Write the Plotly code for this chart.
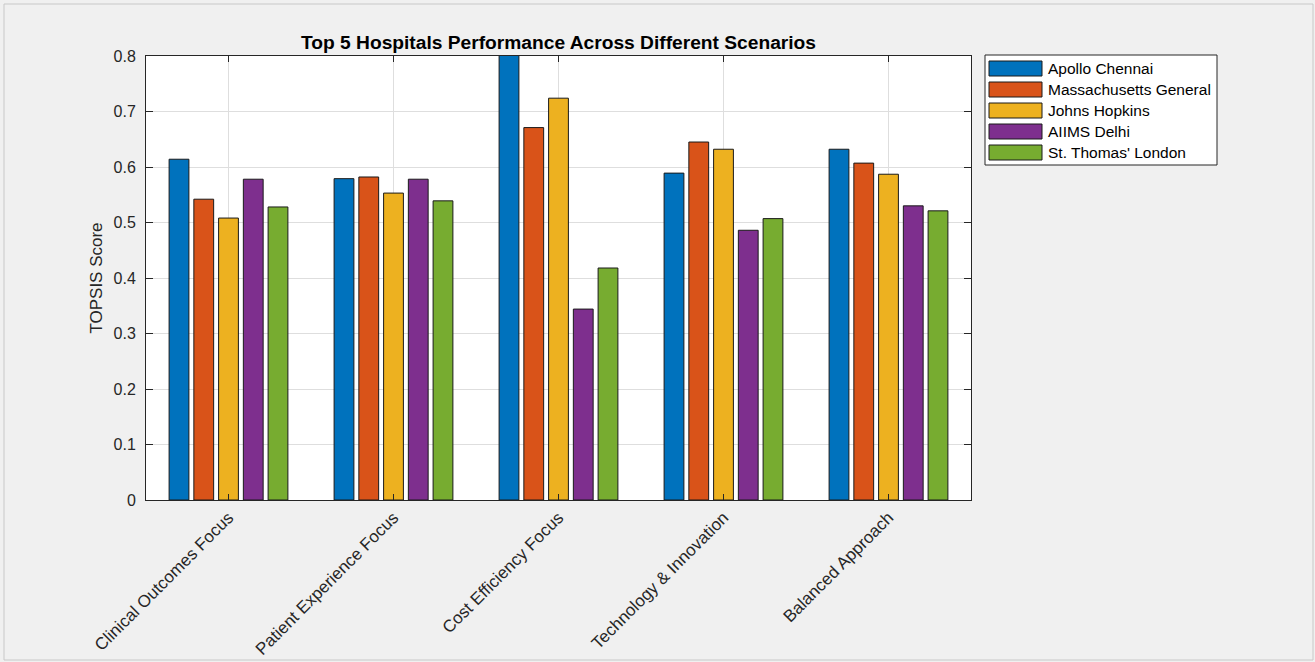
import plotly.graph_objects as go

scenarios = ["Clinical Outcomes Focus", "Patient Experience Focus", "Cost Efficiency Focus",
             "Technology & Innovation", "Balanced Approach"]
hospitals = ["Apollo Chennai", "Massachusetts General", "Johns Hopkins", "AIIMS Delhi", "St. Thomas' London"]
colors = ["#0072BD", "#D95319", "#EDB120", "#7E2F8E", "#77AC30"]

apollo = [0.614, 0.579, 0.830, 0.589, 0.632]
massgen = [0.542, 0.582, 0.671, 0.645, 0.607]
hopkins = [0.508, 0.553, 0.724, 0.632, 0.587]
aiims = [0.578, 0.578, 0.344, 0.486, 0.530]
stthomas = [0.528, 0.539, 0.418, 0.507, 0.521]
series = [apollo, massgen, hopkins, aiims, stthomas]

yticks = [0, 0.1, 0.2, 0.3, 0.4, 0.5, 0.6, 0.7, 0.8]
ytick_text = ["0", "0.1", "0.2", "0.3", "0.4", "0.5", "0.6", "0.7", "0.8"]

W, H = 1315, 662
L, R, T, B = 146, 971, 56, 500

fig = go.Figure()
for name, vals, c in zip(hospitals, series, colors):
    fig.add_trace(go.Bar(x=scenarios, y=vals, name=name, marker=dict(color=c, line=dict(color="#1a1a1a", width=1)),
                         showlegend=False))

FONT = "Liberation Sans, Arial, sans-serif"
fig.update_layout(
    width=W, height=H,
    margin=dict(l=L, r=W - R, t=T, b=H - B, pad=0, autoexpand=False),
    paper_bgcolor="#f0f0f0", plot_bgcolor="white",
    barmode="group", bargap=0.25, bargroupgap=0.2,
    font=dict(family=FONT, color="#262626", size=15),
    title=dict(text="<b>Top 5 Hospitals Performance Across Different Scenarios</b>",
               x=(L + R) / 2 / W, xanchor="center", xref="container",
               y=1 - 42 / H, yanchor="middle", yref="container",
               font=dict(size=19.2, color="black", family=FONT)),
)
fig.update_xaxes(showgrid=True, gridcolor="#dedede", gridwidth=1, tickangle=-45, automargin=False,
                 ticks="inside", ticklen=6, tickcolor="#262626",
                 showline=True, linecolor="#262626", linewidth=1, mirror="allticks",
                 tickfont=dict(size=17, color="#262626"))
fig.update_yaxes(range=[0, 0.8], tickvals=yticks, ticktext=ytick_text, automargin=False,
                 showgrid=True, gridcolor="#dedede", gridwidth=1, zeroline=False,
                 ticks="inside", ticklen=7, tickcolor="#262626",
                 showline=True, linecolor="#262626", linewidth=1, mirror="allticks",
                 tickfont=dict(size=16, color="#262626"), ticklabelstandoff=6,
                 title=dict(text="TOPSIS Score", font=dict(size=17, color="#262626"), standoff=6))

def px(x):
    return (x - L) / (R - L)

def py(y):
    return (B - y) / (B - T)

shapes = []
# outer figure border
shapes.append(dict(type="rect", xref="paper", yref="paper", x0=px(4), x1=px(1313), y0=py(660), y1=py(4),
                   line=dict(color="#c8c8c8", width=1), fillcolor="rgba(0,0,0,0)", layer="below"))
# legend box
shapes.append(dict(type="rect", xref="paper", yref="paper", x0=px(985), x1=px(1217), y0=py(165), y1=py(55),
                   line=dict(color="#262626", width=1), fillcolor="white"))
annotations = []
for i, (name, c) in enumerate(zip(hospitals, colors)):
    cy = 68.5 + 21 * i
    shapes.append(dict(type="rect", xref="paper", yref="paper", x0=px(989), x1=px(1042),
                       y0=py(cy + 7.5), y1=py(cy - 7.5), line=dict(color="#1a1a1a", width=1), fillcolor=c))
    annotations.append(dict(text=name, xref="paper", yref="paper", x=px(1046), y=py(cy), xanchor="left",
                            yanchor="middle", showarrow=False, font=dict(size=15.5, color="black", family=FONT)))
fig.update_layout(shapes=shapes, annotations=annotations)

fig.write_html("out.html")
